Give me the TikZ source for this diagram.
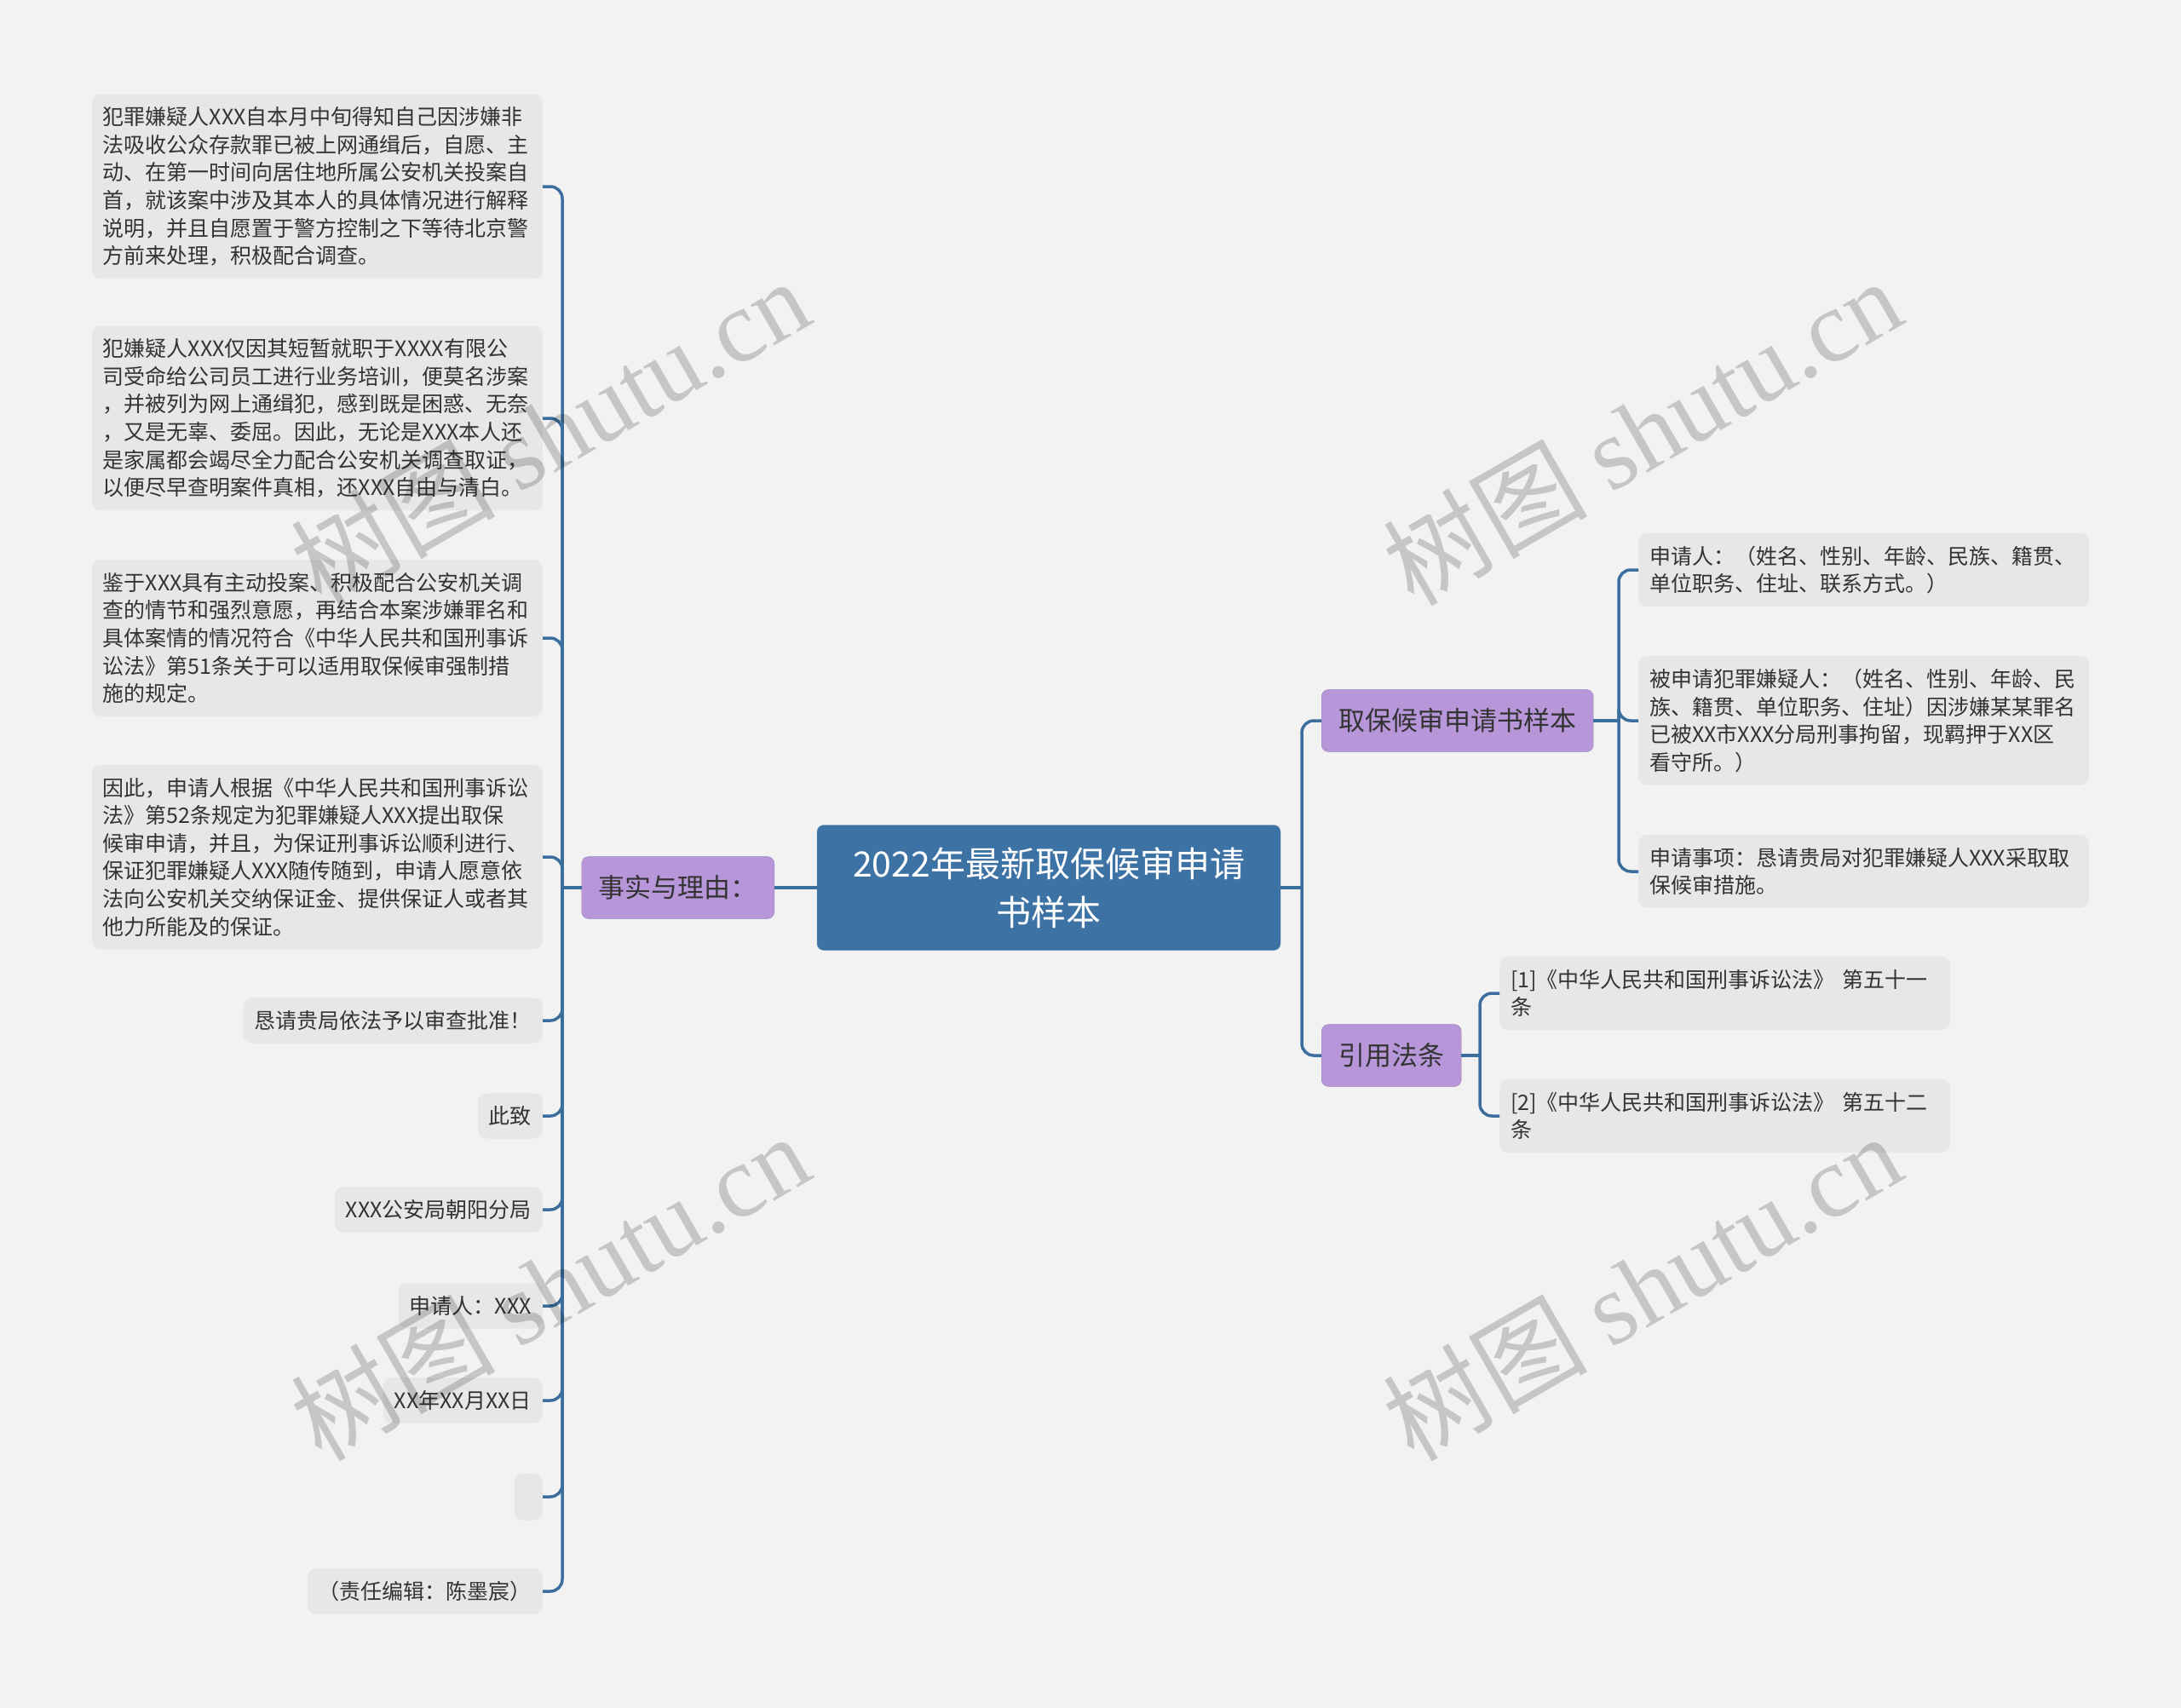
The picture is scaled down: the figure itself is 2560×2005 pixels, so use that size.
\documentclass[tikz,border=0pt]{standalone}
\usepackage{fontspec}
\setmainfont{Noto Sans CJK SC}
\newfontfamily\wmlatin{Liberation Serif}
\usetikzlibrary{positioning}

\definecolor{bgcol}{HTML}{F2F2F2}
\definecolor{linecol}{HTML}{3B6D9D}
\definecolor{rootcol}{HTML}{3D72A5}
\definecolor{subcol}{HTML}{B797D9}
\definecolor{leafcol}{HTML}{E7E7E7}
\definecolor{txtcol}{HTML}{333333}

\tikzset{
  root/.style={fill=rootcol, draw=rootcol!75!white, rounded corners=8pt, text=white,
    align=center, font=\fontsize{41}{57}\selectfont, inner xsep=42pt, inner ysep=26pt},
  sub/.style={fill=subcol, draw=subcol!85!black, rounded corners=8pt, text=txtcol,
    font=\fontsize{31}{38}\selectfont, inner xsep=20pt, inner ysep=22pt},
  leaf/.style={fill=leafcol, rounded corners=10pt, text=txtcol,
    font=\fontsize{25}{32.6}\selectfont, inner xsep=13pt, inner ysep=15pt},
  para/.style={leaf, align=left, text width=503pt},
  link/.style={draw=linecol, line width=3.5pt, rounded corners=14pt},
  wm/.style={text=black, opacity=0.18, rotate=30, font=\fontsize{120}{120}\selectfont}
}

\begin{document}
\begin{tikzpicture}[x=1pt, y=-1pt]
  \useasboundingbox[fill=bgcol] (0,0) rectangle (2560,2005);

  % centre
  \node[root] (root) at (1231,1042) {2022年最新取保候审申请\\书样本};

  % left branch
  \node[sub, anchor=east] (fact) at (909,1042) {事实与理由：};
  \node[para, anchor=east] (f1) at (637,219) {犯罪嫌疑人XXX自本月中旬得知自己因涉嫌非\\法吸收公众存款罪已被上网通缉后，自愿、主\\动、在第一时间向居住地所属公安机关投案自\\首，就该案中涉及其本人的具体情况进行解释\\说明，并且自愿置于警方控制之下等待北京警\\方前来处理，积极配合调查。};
  \node[para, anchor=east] (f2) at (637,491) {犯嫌疑人XXX仅因其短暂就职于XXXX有限公\\司受命给公司员工进行业务培训，便莫名涉案\\，并被列为网上通缉犯，感到既是困惑、无奈\\，又是无辜、委屈。因此，无论是XXX本人还\\是家属都会竭尽全力配合公安机关调查取证，\\以便尽早查明案件真相，还XXX自由与清白。};
  \node[para, anchor=east] (f3) at (637,749) {鉴于XXX具有主动投案、积极配合公安机关调\\查的情节和强烈意愿，再结合本案涉嫌罪名和\\具体案情的情况符合《中华人民共和国刑事诉\\讼法》第51条关于可以适用取保候审强制措\\施的规定。};
  \node[para, anchor=east] (f4) at (637,1006) {因此，申请人根据《中华人民共和国刑事诉讼\\法》第52条规定为犯罪嫌疑人XXX提出取保\\候审申请，并且，为保证刑事诉讼顺利进行、\\保证犯罪嫌疑人XXX随传随到，申请人愿意依\\法向公安机关交纳保证金、提供保证人或者其\\他力所能及的保证。};
  \node[leaf, anchor=east] (f5) at (637,1198) {恳请贵局依法予以审查批准！};
  \node[leaf, anchor=east] (f6) at (637,1310) {此致};
  \node[leaf, anchor=east] (f7) at (637,1420) {XXX公安局朝阳分局};
  \node[leaf, anchor=east] (f8) at (637,1533) {申请人：XXX};
  \node[leaf, anchor=east] (f9) at (637,1644) {XX年XX月XX日};
  \node[leaf, anchor=east, minimum width=33pt, minimum height=55pt] (f10) at (637,1757) {};
  \node[leaf, anchor=east] (f11) at (637,1868) {（责任编辑：陈墨宸）};

  % right branch
  \node[sub, anchor=west] (form) at (1551,846) {取保候审申请书样本};
  \node[sub, anchor=west] (law) at (1551,1239) {引用法条};
  \node[para, anchor=west] (a1) at (1923,669) {申请人：（姓名、性别、年龄、民族、籍贯、\\单位职务、住址、联系方式。）};
  \node[para, anchor=west] (a2) at (1923,846) {被申请犯罪嫌疑人：（姓名、性别、年龄、民\\族、籍贯、单位职务、住址）因涉嫌某某罪名\\已被XX市XXX分局刑事拘留，现羁押于XX区\\看守所。）};
  \node[para, anchor=west] (a3) at (1923,1023) {申请事项：恳请贵局对犯罪嫌疑人XXX采取取\\保候审措施。};
  \node[para, anchor=west] (b1) at (1760,1166) {[1]《中华人民共和国刑事诉讼法》 第五十一\\条};
  \node[para, anchor=west] (b2) at (1760,1310) {[2]《中华人民共和国刑事诉讼法》 第五十二\\条};

  % connectors
  \coordinate (ls) at (660,1042);
  \coordinate (rs) at (1528,1042);
  \coordinate (fs) at (1900,846);
  \coordinate (bs) at (1737,1239);
  \draw[link] (root.west) -- (fact.east);
  \draw[link] (fact.west) -- (ls);
  \foreach \n in {f1,f2,f3,f4,f5,f6,f7,f8,f9,f10,f11}
    \draw[link] (ls) |- (\n.east);
  \draw[link] (root.east) -- (rs);
  \draw[link] (rs) |- (form.west);
  \draw[link] (rs) |- (law.west);
  \draw[link] (form.east) -- (fs);
  \foreach \n in {a1,a2,a3}
    \draw[link] (fs) |- (\n.west);
  \draw[link] (law.east) -- (bs);
  \foreach \n in {b1,b2}
    \draw[link] (bs) |- (\n.west);

  % watermarks
  \node[wm] (wm1) at (645,506) {树图 {\wmlatin shutu.cn}};
  \node[wm] (wm2) at (1927,506) {树图 {\wmlatin shutu.cn}};
  \node[wm] (wm3) at (645,1510) {树图 {\wmlatin shutu.cn}};
  \node[wm] (wm4) at (1927,1510) {树图 {\wmlatin shutu.cn}};
\end{tikzpicture}
\end{document}
